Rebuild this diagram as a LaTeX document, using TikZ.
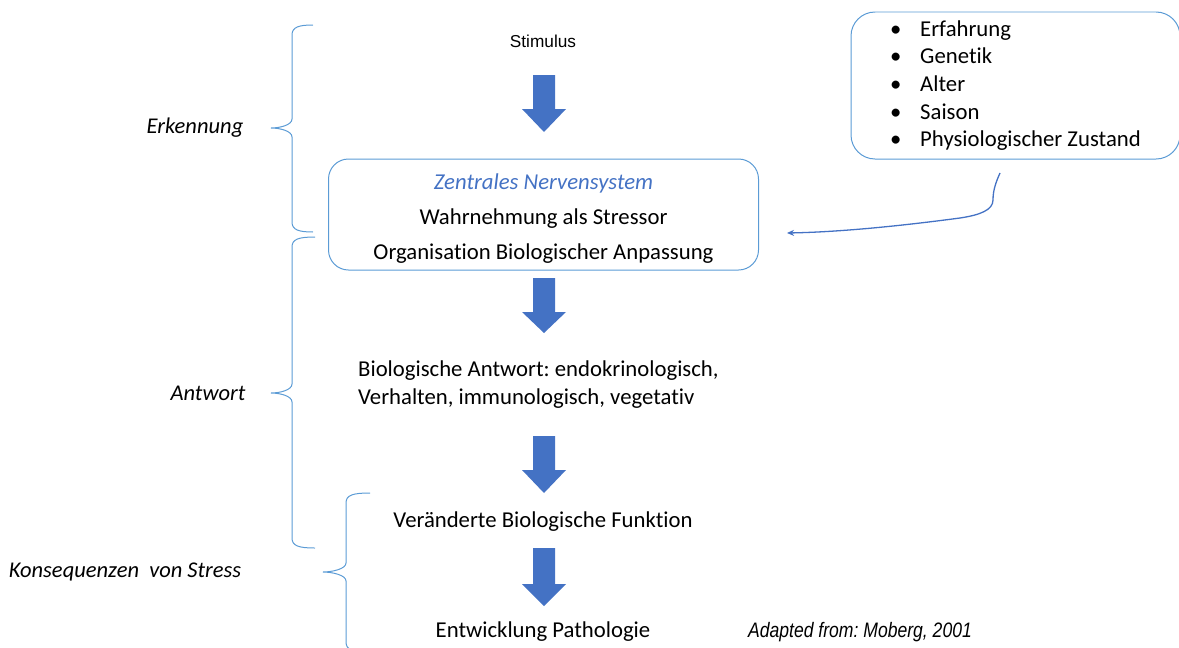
\documentclass[tikz,border=0pt]{standalone}
\usepackage{fontspec}
\setmainfont[Ligatures={NoCommon}]{Carlito}
\newfontfamily\arialfont{Liberation Sans}
\newfontfamily\narrowfont[FakeStretch=0.84]{Liberation Sans}
\usepackage{tikz}
\usetikzlibrary{arrows.meta,shapes}
\frenchspacing

\definecolor{arrowblue}{HTML}{4472C4}
\definecolor{lineblue}{HTML}{5B9BD5}

\tikzset{
  body/.style={font=\fontsize{22.8}{27}\selectfont},
  sidelabel/.style={font=\fontsize{22.6}{27}\selectfont\itshape},
  roundbox/.style={draw=lineblue,line width=1pt,rounded corners=20bp},
  blockarrow/.style={fill=arrowblue},
  bracestyle/.style={draw=lineblue,line width=1pt},
}

% xend, xline, xtip, ytop, ymid, ybot
\newcommand{\officebrace}[6]{%
  \draw[bracestyle] (#1bp,-#4bp) .. controls (#2bp+7bp,-#4bp) and (#2bp,-#4bp-2bp) .. (#2bp,-#4bp-10bp)
    -- (#2bp,-#5bp+9bp) .. controls (#2bp,-#5bp+3bp) and (#3bp+9bp,-#5bp) .. (#3bp,-#5bp)
    .. controls (#3bp+9bp,-#5bp) and (#2bp,-#5bp-3bp) .. (#2bp,-#5bp-9bp)
    -- (#2bp,-#6bp+10bp) .. controls (#2bp,-#6bp+2bp) and (#2bp+7bp,-#6bp) .. (#1bp,-#6bp);}

\begin{document}
\begin{tikzpicture}
\useasboundingbox (0bp,0bp) rectangle (1179bp,-648bp);

% main chain
\node (stim) at (543bp,-41bp)[font=\arialfont\fontsize{17.3}{20}\selectfont] {Stimulus};
\node (zns) at (543.5bp,-214.5bp)[roundbox,minimum width=430bp,minimum height=111bp] {};
\node (znstext) at ([yshift=-4bp]zns.center)[align=center,font=\fontsize{22.8}{35.5}\selectfont] {{\color{arrowblue}\itshape Zentrales Nervensystem}\\Wahrnehmung als Stressor\\Organisation Biologischer Anpassung};
\node (antw) at (358bp,-385bp)[anchor=west,align=left,inner sep=0pt,font=\fontsize{22.8}{28}\selectfont] {Biologische Antwort: endokrinologisch,\\Verhalten, immunologisch, vegetativ};
\node (funk) at (543bp,-522bp)[body] {Veränderte Biologische Funktion};
\node (patho) at (543bp,-632bp)[body] {Entwicklung Pathologie};

% factors
\node (factors) at (1015.5bp,-85.5bp)[roundbox,rounded corners=24bp,minimum width=329bp,minimum height=147bp,align=left,font=\fontsize{22.8}{27.7}\selectfont] {\makebox[30bp][l]{\textbullet}Erfahrung\\\makebox[30bp][l]{\textbullet}Genetik\\\makebox[30bp][l]{\textbullet}Alter\\\makebox[30bp][l]{\textbullet}Saison\\\makebox[30bp][l]{\textbullet}Physiologischer Zustand};
\coordinate (fstart) at (1000bp,-173bp);
\coordinate (fend) at (787bp,-233bp);
\draw[draw=arrowblue,line width=1.3pt,-{Stealth[length=7bp,width=6bp]}] (fstart) .. controls (996bp,-182bp) and (993bp,-190bp) .. (993bp,-200bp) .. controls (993bp,-210bp) and (980bp,-215bp) .. (960bp,-218bp) .. controls (900bp,-226bp) and (840bp,-232bp) .. (fend);

% block arrows
\fill[blockarrow] (533bp,-75bp) -- (555bp,-75bp) -- (555bp,-109bp) -- (566bp,-109bp) -- (544bp,-132bp) -- (522bp,-109bp) -- (533bp,-109bp) -- cycle;
\fill[blockarrow] (533bp,-278bp) -- (555bp,-278bp) -- (555bp,-312bp) -- (566bp,-312bp) -- (544bp,-333bp) -- (522bp,-312bp) -- (533bp,-312bp) -- cycle;
\fill[blockarrow] (533bp,-436bp) -- (555bp,-436bp) -- (555bp,-470bp) -- (566bp,-470bp) -- (544bp,-493bp) -- (522bp,-470bp) -- (533bp,-470bp) -- cycle;
\fill[blockarrow] (533bp,-548bp) -- (555bp,-548bp) -- (555bp,-584bp) -- (566bp,-584bp) -- (544bp,-606bp) -- (522bp,-584bp) -- (533bp,-584bp) -- cycle;

% braces and side labels
\officebrace{313}{292}{271}{25}{128}{232}
\officebrace{315}{292}{271}{237}{393}{548}
\officebrace{370}{346}{323}{493}{572}{652}
\node (erk) at (195bp,-128bp)[sidelabel] {Erkennung};
\node (antwlab) at (208bp,-393bp)[sidelabel] {Antwort};
\node (kons) at (125bp,-572bp)[sidelabel] {Konsequenzen\ \ von Stress};

\node (src) at (860bp,-632bp)[font=\narrowfont\itshape\fontsize{21}{24}\selectfont] {Adapted from: Moberg, 2001};
\end{tikzpicture}
\end{document}
